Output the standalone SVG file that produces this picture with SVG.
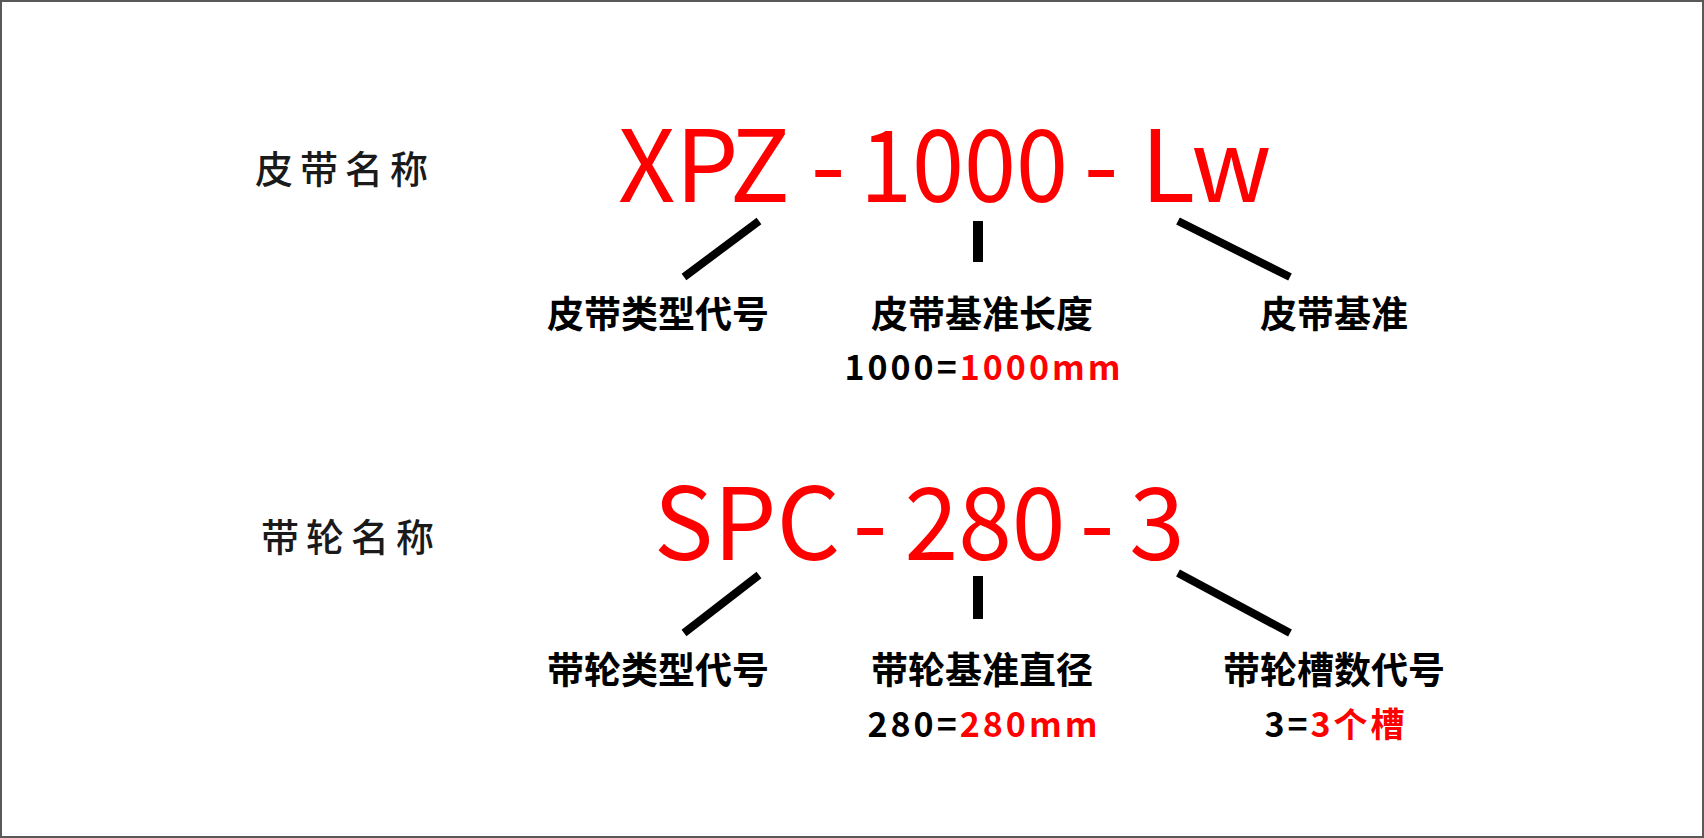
<svg xmlns="http://www.w3.org/2000/svg" width="1704" height="838" viewBox="0 0 1704 838">
<style>
.title{font-family:"Noto Sans CJK SC","Noto Sans",sans-serif;font-size:38px;font-weight:500;fill:#1a1a1a;letter-spacing:7px}
.code{font-family:"Noto Sans CJK SC","Noto Sans",sans-serif;font-size:100px;font-weight:400;fill:#ff0000;text-anchor:middle}
.lbl{font-family:"Noto Sans CJK SC","Noto Sans",sans-serif;font-size:37px;font-weight:700;fill:#000;text-anchor:middle}
.val{font-family:"Noto Sans CJK SC","Noto Sans",sans-serif;font-size:34px;font-weight:700;fill:#000;text-anchor:middle;letter-spacing:3px}
.red{fill:#ff0000}
.ln{stroke:#000;stroke-width:8;fill:none}
.vl{stroke:#000;stroke-width:10;fill:none}
</style>
<rect x="0" y="0" width="1704" height="838" fill="#fff"/>
<rect x="1" y="1" width="1702" height="836" fill="none" stroke="#595959" stroke-width="2"/>
<g id="belt-title"><text class="title" x="255" y="183">皮带名称</text></g>
<g id="belt-code">
<text class="code" x="704" y="202">XPZ</text>
<text class="code" x="828" y="202">-</text>
<text class="code" x="964" y="202" textLength="208" lengthAdjust="spacingAndGlyphs">1000</text>
<text class="code" x="1101" y="202">-</text>
<text class="code" x="1206" y="202">Lw</text>
</g>
<g id="belt-type"><text class="lbl" x="658" y="328">皮带类型代号</text></g>
<g id="belt-length"><text class="lbl" x="982" y="328">皮带基准长度</text>
<text class="val" x="984" y="380">1000=<tspan class="red">1000mm</tspan></text></g>
<g id="belt-ref"><text class="lbl" x="1334" y="328">皮带基准</text></g>
<g id="pulley-title"><text class="title" x="261" y="551">带轮名称</text></g>
<g id="pulley-code">
<text class="code" x="747" y="560">SPC</text>
<text class="code" x="870" y="560">-</text>
<text class="code" x="985" y="560" textLength="161" lengthAdjust="spacingAndGlyphs">280</text>
<text class="code" x="1097" y="560">-</text>
<text class="code" x="1157" y="560">3</text>
</g>
<g id="pulley-type"><text class="lbl" x="658" y="684">带轮类型代号</text></g>
<g id="pulley-diameter"><text class="lbl" x="982" y="684">带轮基准直径</text>
<text class="val" x="984" y="737">280=<tspan class="red">280mm</tspan></text></g>
<g id="pulley-grooves"><text class="lbl" x="1334" y="684">带轮槽数代号</text>
<text class="val" x="1336" y="737">3=<tspan class="red">3个槽</tspan></text></g>
<g id="connectors">
<line class="ln" x1="759" y1="221" x2="684" y2="277"/>
<line class="vl" x1="978" y1="221" x2="978" y2="262"/>
<line class="ln" x1="1178" y1="221" x2="1290" y2="277"/>
<line class="ln" x1="759" y1="575" x2="684" y2="633"/>
<line class="vl" x1="978" y1="576" x2="978" y2="619"/>
<line class="ln" x1="1178" y1="573" x2="1290" y2="633"/>
</g>
</svg>
